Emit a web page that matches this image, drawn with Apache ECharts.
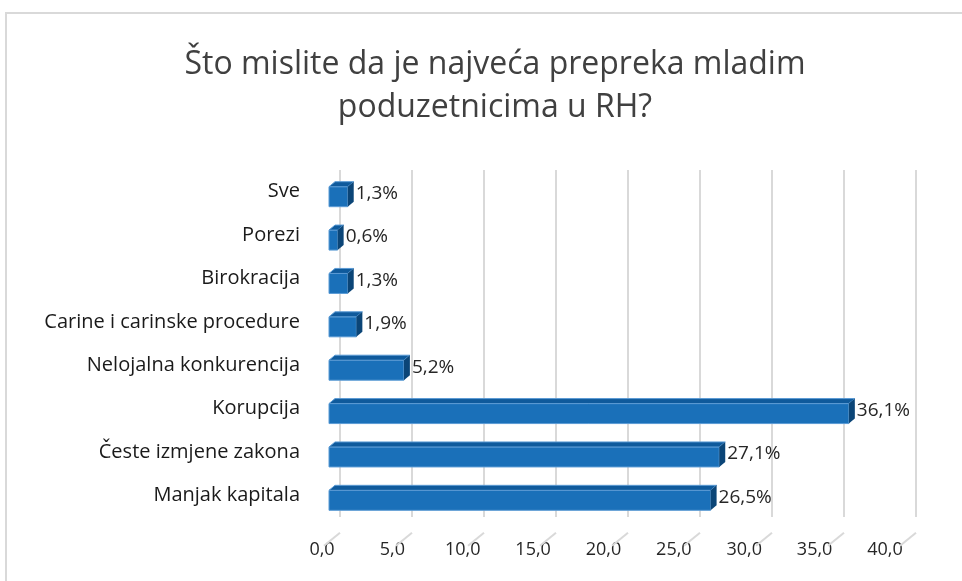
<!DOCTYPE html>
<html>
<head>
<meta charset="utf-8">
<script src="https://cdn.jsdelivr.net/npm/echarts@6/dist/echarts.min.js"></script>
<style>
  html, body { margin: 0; padding: 0; background: #fff; }
  #frame {
    position: absolute; left: 5px; top: 12px; width: 962px; height: 575px;
    border: 2px solid #d9d9d9; box-sizing: border-box;
  }
  #chart { position: absolute; left: 0; top: 0; width: 962px; height: 581px; }
</style>
</head>
<body>
<div id="frame"></div>
<div id="chart"></div>
<script>
// odgovori (redoslijed odozgo prema dolje)
const categories = [
  'Sve',
  'Porezi',
  'Birokracija',
  'Carine i carinske procedure',
  'Nelojalna konkurencija',
  'Korupcija',
  'Česte izmjene zakona',
  'Manjak kapitala'
]
const values = [1.3, 0.6, 1.3, 1.9, 5.2, 36.1, 27.1, 26.5]
const xTicks = [0, 5, 10, 15, 20, 25, 30, 35, 40]

const fmt = (v, d) => v.toFixed(d).replace('.', ',')

const chart = echarts.init(document.getElementById('chart'))

// 3D stupci: prednja strana, gornja i desna ploha
function renderBar(params, api) {
  const v = api.value(0)
  const c = api.value(1)
  const p0 = api.coord([0, c])
  const p1 = api.coord([v, c])
  const h = 20, dx = 6, dy = 5
  const x0 = p0[0] - 11
  const x1 = p1[0] - 11
  const y0 = p0[1] - h / 2 + 5
  return {
    type: 'group',
    children: [
      {
        type: 'rect',
        shape: { x: x0, y: y0, width: x1 - x0, height: h },
        style: { fill: '#1a70b9', stroke: '#5b9bd5', lineWidth: 1 }
      },
      {
        type: 'polygon',
        shape: { points: [[x0, y0], [x0 + dx, y0 - dy], [x1 + dx, y0 - dy], [x1, y0]] },
        style: { fill: '#0f5a9c', stroke: '#5b9bd5', lineWidth: 1 }
      },
      {
        type: 'polygon',
        shape: { points: [[x1, y0], [x1 + dx, y0 - dy], [x1 + dx, y0 + h - dy], [x1, y0 + h]] },
        style: { fill: '#0b4577' }
      },
      {
        type: 'text',
        style: {
          x: x1 + dx + 2, y: y0 + h / 2 - 3,
          text: fmt(v, 1) + '%',
          fill: '#262626',
          font: '19px "Open Sans"',
          verticalAlign: 'middle'
        }
      }
    ]
  }
}

// kose crtice poda ispod linija mreže
function renderFloor(params, api) {
  const p = api.coord([api.value(0), categories.length - 0.5])
  return {
    type: 'line',
    shape: { x1: p[0], y1: p[1] - 6, x2: p[0] - 16, y2: p[1] + 7 },
    style: { stroke: '#d9d9d9', lineWidth: 2 }
  }
}

chart.setOption({
  animation: false,
  backgroundColor: 'transparent',
  title: {
    text: 'Što mislite da je najveća prepreka mladim\npoduzetnicima u RH?',
    left: 490,
    textAlign: 'center',
    top: 38,
    textStyle: {
      fontFamily: 'Open Sans',
      fontSize: 32,
      fontWeight: 'normal',
      color: '#404040',
      lineHeight: 43
    }
  },
  grid: [
    { left: 340, right: 46, top: 170, bottom: 64 },
    { left: 322, right: 77, top: 170, bottom: 64 }
  ],
  xAxis: [
    {
      type: 'value',
      gridIndex: 0,
      min: 0,
      max: 40,
      interval: 5,
      axisLine: { show: false },
      axisTick: { show: false },
      axisLabel: { show: false },
      splitLine: { lineStyle: { color: '#d9d9d9', width: 2 } }
    },
    {
      type: 'value',
      gridIndex: 1,
      min: 0,
      max: 40,
      interval: 5,
      axisLine: { show: false },
      axisTick: { show: false },
      splitLine: { show: false },
      axisLabel: {
        margin: 24,
        fontFamily: 'Open Sans',
        fontSize: 18,
        color: '#262626',
        formatter: (v) => fmt(v, 1)
      }
    }
  ],
  yAxis: [
    {
      type: 'category',
      gridIndex: 0,
      data: categories,
      inverse: true,
      axisLine: { show: false },
      axisTick: { show: false },
      axisLabel: {
        margin: 40,
        fontFamily: 'Open Sans',
        fontSize: 20,
        color: '#1a1a1a'
      }
    },
    {
      type: 'category',
      gridIndex: 1,
      data: categories,
      inverse: true,
      show: false
    }
  ],
  series: [
    {
      type: 'custom',
      xAxisIndex: 0,
      yAxisIndex: 0,
      renderItem: renderFloor,
      encode: { x: 0 },
      data: xTicks.map((t) => [t]),
      silent: true,
      z: 1
    },
    {
      type: 'custom',
      xAxisIndex: 0,
      yAxisIndex: 0,
      renderItem: renderBar,
      encode: { x: 0, y: 1 },
      data: values.map((v, i) => [v, i]),
      z: 2
    }
  ]
})
</script>
</body>
</html>
